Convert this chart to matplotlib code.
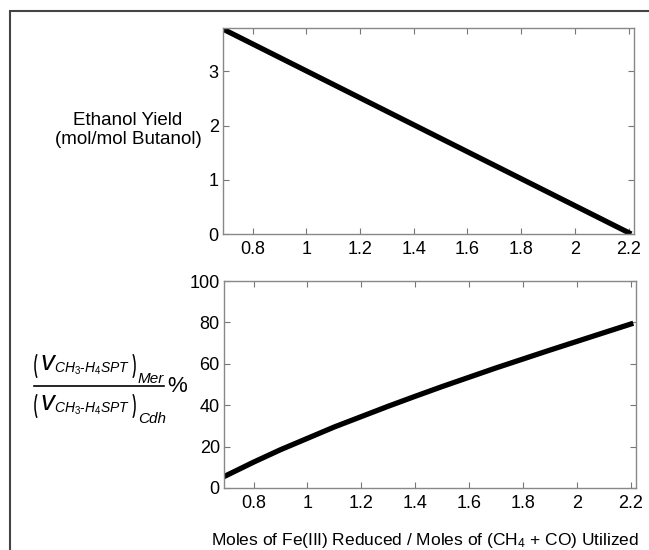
import matplotlib.pyplot as plt
from matplotlib.patches import Rectangle, Arc
from matplotlib.lines import Line2D

plt.rcParams['font.family'] = ['Liberation Sans', 'DejaVu Sans']
plt.rcParams['mathtext.fontset'] = 'custom'
plt.rcParams['mathtext.rm'] = 'Liberation Sans'
plt.rcParams['mathtext.it'] = 'Liberation Sans:italic'

# ethanol yield vs Fe(III)/(CH4+CO)
x_top = [0.69, 2.21]
y_top = [3.78, 0.0]

# percent of CH3-H4SPT flux via Mer
x_bot = [0.69, 0.8, 0.9, 1.0, 1.1, 1.2, 1.3, 1.4, 1.5, 1.6, 1.7, 1.8, 1.9, 2.0, 2.1, 2.21]
y_bot = [5.5, 12.5, 18.5, 24.0, 29.5, 34.5, 39.5, 44.3, 49.0, 53.5, 58.0, 62.3, 66.6, 70.8, 75.0, 79.6]

xticks = [0.8, 1.0, 1.2, 1.4, 1.6, 1.8, 2.0, 2.2]
xticklabels = ['0.8', '1', '1.2', '1.4', '1.6', '1.8', '2', '2.2']

W, H = 649, 550
fig = plt.figure(figsize=(W / 100, H / 100), dpi=100)

def box(l, t, r, b):
    return [l / W, 1 - b / H, (r - l) / W, (b - t) / H]

def px(x, y, s, **kw):
    # place text by pixel position from top-left
    return fig.text(x / W, 1 - y / H, s, **kw)

def paren(xc, yc, left):
    t1, t2 = (110, 250) if left else (-70, 70)
    fig.add_artist(Arc((xc / W, 1 - yc / H), 14 / W, 34 / H, theta1=t1, theta2=t2,
                       transform=fig.transFigure, color='black', linewidth=1.1))

ax1 = fig.add_axes(box(223, 28, 634, 234))
ax2 = fig.add_axes(box(224, 281, 636, 488))

for ax in (ax1, ax2):
    ax.set_xlim(0.69, 2.22)
    ax.set_xticks(xticks)
    ax.set_xticklabels(xticklabels)
    ax.tick_params(direction='in', top=True, right=True, length=4,
                   color='#777777', labelsize=13, pad=5)
    ax.tick_params(axis='y', pad=3)
    for s in ax.spines.values():
        s.set_color('#888888')
        s.set_linewidth(1.0)

ax1.plot(x_top, y_top, color='black', linewidth=3.8, solid_capstyle='butt')
ax1.set_ylim(0, 3.8)
ax1.set_yticks([0, 1, 2, 3])

ax2.plot(x_bot, y_bot, color='black', linewidth=3.8, solid_capstyle='butt')
ax2.set_ylim(0, 100)
ax2.set_yticks([0, 20, 40, 60, 80, 100])

px(128, 130, 'Ethanol Yield\n(mol/mol Butanol)',
   ha='center', va='center', fontsize=13.5, linespacing=1.1)

# fraction label built from pieces
sub = r'$CH_3\text{-}H_4SPT$'
for yc, tail in [(366, 'Mer'), (406, 'Cdh')]:
    paren(42, yc, True)
    px(40, yc - 3, 'v', ha='left', va='center', fontsize=20, style='italic')
    px(54, yc + 3, sub, ha='left', va='center', fontsize=10)
    paren(128, yc, False)
    px(138, yc + 13, tail, ha='left', va='center', fontsize=11, style='italic')
fig.add_artist(Line2D([34 / W, 164 / W], [1 - 386 / H, 1 - 386 / H],
                      transform=fig.transFigure, color='black', linewidth=1.2))
px(177, 386, '%', ha='center', va='center', fontsize=16)

px(425, 540, r'Moles of Fe(III) Reduced / Moles of (CH$_4$ + CO) Utilized',
   ha='center', va='center', fontsize=12.5)

# outer frame (left and top edges visible)
fig.patches.append(Rectangle((10 / W, -0.1), 2, 1.1 - 11 / H,
                             transform=fig.transFigure, fill=False,
                             edgecolor='#444444', linewidth=1.5))

fig.savefig('out.png', dpi=100)
